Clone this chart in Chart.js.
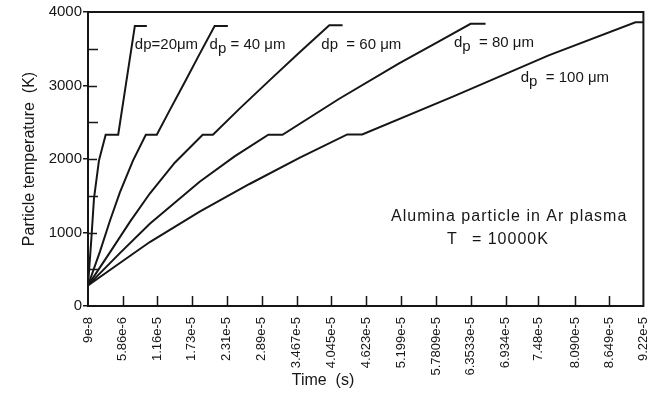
<!DOCTYPE html>
<html>
<head>
    <title>Particle temperature</title>
    <script src="https://cdn.jsdelivr.net/npm/chart.js"></script>
    <style>
        body {
            margin: 0;
            background-color: #ffffff;
        }

        .chart-box {
            width: 662px;
            height: 394px;
        }
    </style>
</head>
<body>
    <div class="chart-box">
        <canvas id="heatChart"></canvas>
    </div>

    <script>
        // time axis (s)
        const timeTicks = [9e-8, 5.86e-6, 1.16e-5, 1.73e-5, 2.31e-5, 2.89e-5, 3.467e-5, 4.045e-5, 4.623e-5,
            5.199e-5, 5.7809e-5, 6.3533e-5, 6.934e-5, 7.48e-5, 8.090e-5, 8.649e-5, 9.22e-5];
        const timeTickLabels = ['9e-8', '5.86e-6', '1.16e-5', '1.73e-5', '2.31e-5', '2.89e-5', '3.467e-5', '4.045e-5', '4.623e-5',
            '5.199e-5', '5.7809e-5', '6.3533e-5', '6.934e-5', '7.48e-5', '8.090e-5', '8.649e-5', '9.22e-5'];

        // particle temperature (K) against time (s), one pair per diameter
        const time20 = [9e-8, 6.7e-7, 1.08e-6, 1.91e-6, 3.02e-6, 5.10e-6, 7.86e-6, 9.85e-6];
        const temp20 = [280, 940, 1460, 1980, 2330, 2330, 3810, 3810];

        const time40 = [9e-8, 2.07e-6, 3.73e-6, 5.38e-6, 7.53e-6, 9.68e-6, 1.15e-5, 1.365e-5, 1.613e-5, 1.861e-5, 2.109e-5, 2.329e-5];
        const temp40 = [280, 740, 1160, 1545, 1975, 2330, 2330, 2665, 3045, 3430, 3810, 3810];

        const time60 = [9e-8, 3.73e-6, 7.04e-6, 1.034e-5, 1.448e-5, 1.911e-5, 2.081e-5, 2.523e-5, 3.019e-5, 3.515e-5, 4.011e-5, 4.231e-5];
        const temp60 = [280, 730, 1145, 1530, 1950, 2330, 2330, 2685, 3070, 3450, 3820, 3820];

        const time80 = [9e-8, 5.38e-6, 1.034e-5, 1.861e-5, 2.44e-5, 3.0e-5, 3.234e-5, 4.176e-5, 5.168e-5, 5.83e-5, 6.354e-5, 6.602e-5];
        const temp80 = [280, 720, 1120, 1690, 2035, 2330, 2330, 2820, 3300, 3600, 3840, 3840];

        const time100 = [9e-8, 5.38e-6, 1.034e-5, 1.861e-5, 2.688e-5, 3.515e-5, 4.309e-5, 4.557e-5, 6.08e-5, 7.649e-5, 9.088e-5, 9.22e-5];
        const temp100 = [280, 585, 870, 1285, 1660, 2015, 2335, 2335, 2855, 3410, 3860, 3860];

        const ink = '#161616';
        const family = '"Liberation Sans", Arial, sans-serif';

        // text written inside the plot, placed in axis units
        const notes = [
            { t: 7.86e-6, k: 3547, parts: ['dp=20μm'] },
            { t: 2.026e-5, k: 3547, parts: ['d', 'p', ' = 40 μm'] },
            { t: 3.879e-5, k: 3547, parts: ['dp  = 60 μm'] },
            { t: 6.078e-5, k: 3574, parts: ['d', 'p', '  = 80 μm'] },
            { t: 7.186e-5, k: 3099, parts: ['d', 'p', '  = 100 μm'] },
            { t: 5.036e-5, k: 1210, parts: ['Alumina particle in Ar plasma'] },
            { t: 5.962e-5, k: 897, parts: ['T'] },
            { t: 6.376e-5, k: 897, parts: ['= 10000K'] }
        ];

        const toPoints = (ts, ks) => ts.map((t, i) => ({ x: t, y: ks[i] }));

        const series = [
            toPoints(time20, temp20),
            toPoints(time40, temp40),
            toPoints(time60, temp60),
            toPoints(time80, temp80),
            toPoints(time100, temp100)
        ];

        // frame, inward tick marks, x title and the notes
        const decorations = {
            id: 'decorations',
            afterDraw(chart) {
                const { ctx, chartArea: a, scales: { x, y } } = chart;
                ctx.save();
                ctx.strokeStyle = ink;
                ctx.lineWidth = 2;
                ctx.strokeRect(a.left, a.top, a.right - a.left, a.bottom - a.top);

                ctx.lineWidth = 1.5;
                ctx.beginPath();
                timeTicks.slice(1, -1).forEach(v => {
                    const px = Math.round(x.getPixelForValue(v)) + 0.5;
                    ctx.moveTo(px, a.bottom);
                    ctx.lineTo(px, a.bottom - 10);
                });
                for (let v = 500; v < 4000; v += 500) {
                    const py = Math.round(y.getPixelForValue(v)) + 0.5;
                    ctx.moveTo(a.left, py);
                    ctx.lineTo(a.left + (v % 1000 === 0 ? 9 : 10), py);
                }
                ctx.stroke();

                ctx.fillStyle = ink;
                ctx.textBaseline = 'middle';
                ctx.font = '16px ' + family;
                ctx.textAlign = 'center';
                ctx.fillText('Time  (s)', 323, 381);

                ctx.textAlign = 'left';
                notes.forEach(n => {
                    let px = x.getPixelForValue(n.t);
                    const py = y.getPixelForValue(n.k);
                    const big = n.parts[0].startsWith('Alumina') || n.parts[0] === 'T' || n.parts[0].startsWith('=');
                    ctx.font = (big ? '16px ' : '15px ') + family;
                    if ('letterSpacing' in ctx) ctx.letterSpacing = big ? '1px' : '0px';
                    n.parts.forEach((p, i) => {
                        const sub = n.parts.length === 3 && i === 1;
                        ctx.fillText(p, px, sub ? py + 4 : py);
                        px += ctx.measureText(p).width;
                    });
                });
                ctx.restore();
            }
        };

        new Chart(document.getElementById('heatChart'), {
            type: 'line',
            data: {
                datasets: series.map(points => ({
                    data: points,
                    borderColor: ink,
                    borderWidth: 2,
                    pointRadius: 0,
                    tension: 0,
                    fill: false
                }))
            },
            options: {
                responsive: true,
                maintainAspectRatio: false,
                animation: false,
                events: [],
                layout: {
                    padding: { top: 12, right: 17, left: 0, bottom: 0 }
                },
                plugins: {
                    legend: { display: false },
                    tooltip: { enabled: false }
                },
                scales: {
                    x: {
                        type: 'linear',
                        min: timeTicks[0],
                        max: timeTicks[timeTicks.length - 1],
                        afterBuildTicks: scale => {
                            scale.ticks = timeTicks.map(v => ({ value: v }));
                        },
                        afterFit: scale => {
                            scale.height = 88;
                        },
                        grid: { display: false },
                        border: { display: false },
                        ticks: {
                            autoSkip: false,
                            minRotation: 90,
                            maxRotation: 90,
                            padding: 3,
                            color: ink,
                            font: { family: family, size: 13 },
                            callback: (value, index) => timeTickLabels[index]
                        }
                    },
                    y: {
                        min: 0,
                        max: 4000,
                        afterFit: scale => {
                            scale.width = 88;
                        },
                        grid: {
                            drawOnChartArea: false,
                            tickLength: 5,
                            color: ink,
                            lineWidth: 1.5
                        },
                        border: { display: false },
                        ticks: {
                            stepSize: 1000,
                            padding: 1,
                            color: ink,
                            font: { family: family, size: 15 },
                            callback: value => String(value)
                        },
                        title: {
                            display: true,
                            text: 'Particle temperature  (K)',
                            color: ink,
                            font: { family: family, size: 16 },
                            padding: { top: 20, bottom: 0 }
                        }
                    }
                }
            },
            plugins: [decorations]
        });
    </script>
</body>
</html>
